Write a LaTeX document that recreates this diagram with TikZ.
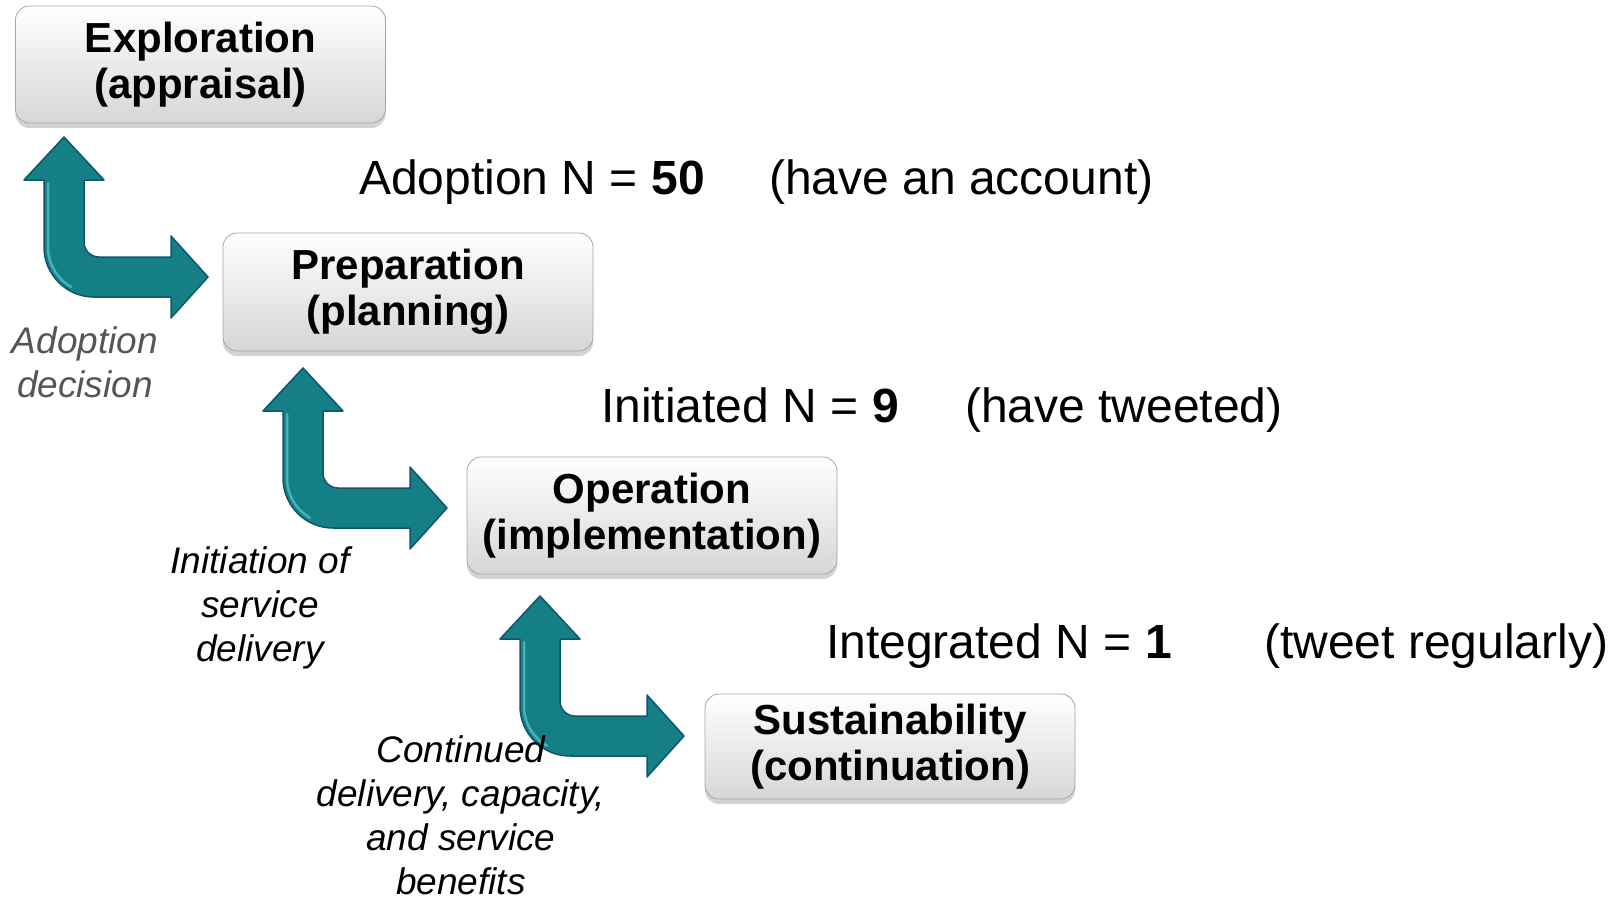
\documentclass[tikz,border=0pt]{standalone}
\usepackage{fontspec}
\setmainfont{Liberation Sans}
\usetikzlibrary{shadows}
\definecolor{tealfill}{RGB}{20,128,134}
\definecolor{tealedge}{RGB}{16,84,110}
\definecolor{tealshine}{RGB}{90,200,210}
\definecolor{notegray}{RGB}{85,85,85}

\begin{document}
\begin{tikzpicture}[x=1pt,y=1pt,
		stage/.style={rounded corners=14pt,draw=black!35,line width=0.8pt,
			top color=white,bottom color=black!16,
			drop shadow={shadow xshift=0pt,shadow yshift=-5pt,opacity=0.35},
			minimum width=370pt,align=center,inner sep=0pt,
			font=\fontsize{42}{46}\selectfont\bfseries},
		count/.style={anchor=base west,inner sep=0pt,font=\fontsize{48}{54}\selectfont},
		note/.style={align=center,inner sep=0pt,font=\fontsize{37}{44}\selectfont\itshape},
		bent/.style={fill=tealfill,draw=tealedge,line width=1.5pt,line join=round}]
		\useasboundingbox (0,0) rectangle (1617,-900);
		% the bent arrows, tip of the up head at \T
		\foreach \T in {(64,-137),(303,-368),(540,-596)}
		{\draw[bent,shift={\T}] (0,0) -- (40,-43) -- (20,-43) -- (20,-105)
			arc (180:270:15) -- (107,-120) -- (107,-99) -- (144,-140) -- (107,-181)
			-- (107,-160) -- (30,-160) arc (270:180:50) -- (-20,-43) -- (-40,-43) -- cycle;
			\draw[tealshine,line width=2.5pt,line cap=round,opacity=0.7,shift={\T}]
			(-16,-46) -- (-16,-110) arc (180:240:46);}
		% stages
		\node[stage,minimum height=117pt] (explore) at (200.5,-64.5) {Exploration\\(appraisal)};
		\node[stage,minimum height=118pt] (prepare) at (408,-292) {Preparation\\(planning)};
		\node[stage,minimum height=117pt] (operate) at (652,-515.5) {Operation\\(implementation)};
		\node[stage,minimum height=105pt] (sustain) at (890,-746.5) {Sustainability\\(continuation)};
		% counts
		\node[count] (adopted) at (359,-194) {Adoption N = \textbf{50}};
		\node[count] (adoptedwhy) at (769,-194) {(have an account)};
		\node[count] (initiated) at (601,-422) {Initiated N = \textbf{9}};
		\node[count] (initiatedwhy) at (965,-422) {(have tweeted)};
		\node[count] (integrated) at (826,-658) {Integrated N = \textbf{1}};
		\node[count] (integratedwhy) at (1264,-658) {(tweet regularly)};
		% notes
		\node[note,text=notegray] (adoptnote) at (85,-362) {Adoption\\decision};
		\node[note] (initnote) at (260,-608) {Initiation of\\service\\delivery};
		\node[note] (contnote) at (461,-815) {Continued\\delivery, capacity,\\and service\\benefits};
\end{tikzpicture}
\end{document}
